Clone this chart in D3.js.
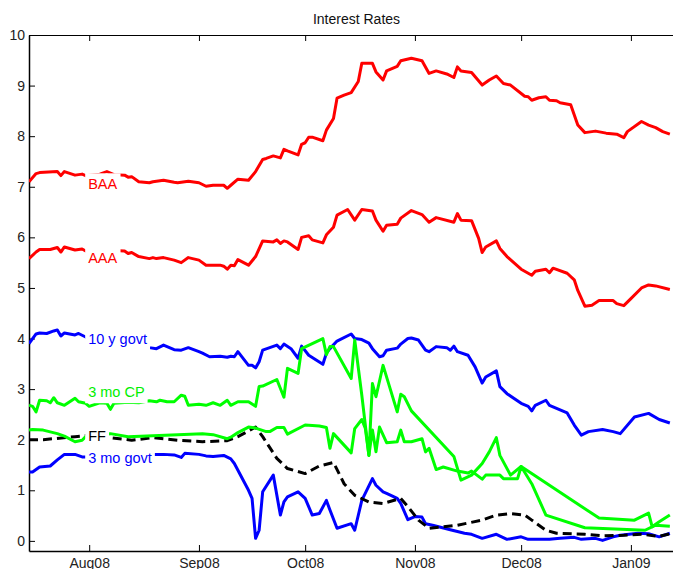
<!DOCTYPE html>
<html>
<head>
<meta charset="utf-8">
<script src="https://cdn.jsdelivr.net/npm/d3@7"></script>
<style>
  body { margin: 0; background: #fff; }
  text { font-family: "Liberation Sans", Arial, Helvetica, sans-serif; }
</style>
</head>
<body>
<div id="chart"></div>
<script>
// values, [date, percent]
var baa = [["2008-07-15",7.10],["2008-07-17",7.26],["2008-07-18",7.28],["2008-07-23",7.30],["2008-07-24",7.22],["2008-07-25",7.30],["2008-07-28",7.23],["2008-07-30",7.25],["2008-07-31",7.22],["2008-08-04",7.25],["2008-08-06",7.30],["2008-08-08",7.24],["2008-08-11",7.23],["2008-08-12",7.19],["2008-08-13",7.20],["2008-08-15",7.10],["2008-08-18",7.08],["2008-08-19",7.10],["2008-08-22",7.13],["2008-08-25",7.09],["2008-08-26",7.08],["2008-08-29",7.11],["2008-09-01",7.08],["2008-09-03",7.01],["2008-09-05",7.03],["2008-09-08",7.03],["2008-09-09",6.97],["2008-09-10",7.03],["2008-09-12",7.15],["2008-09-15",7.13],["2008-09-17",7.30],["2008-09-19",7.54],["2008-09-20",7.56],["2008-09-22",7.61],["2008-09-23",7.59],["2008-09-24",7.57],["2008-09-25",7.74],["2008-09-26",7.71],["2008-09-29",7.63],["2008-09-30",7.84],["2008-10-01",7.87],["2008-10-02",7.98],["2008-10-03",7.98],["2008-10-06",7.91],["2008-10-07",8.12],["2008-10-09",8.35],["2008-10-10",8.75],["2008-10-12",8.81],["2008-10-14",8.86],["2008-10-16",9.08],["2008-10-17",9.44],["2008-10-20",9.44],["2008-10-21",9.27],["2008-10-23",9.11],["2008-10-24",9.29],["2008-10-27",9.38],["2008-10-28",9.49],["2008-10-31",9.54],["2008-11-03",9.49],["2008-11-05",9.24],["2008-11-07",9.29],["2008-11-10",9.23],["2008-11-12",9.16],["2008-11-13",9.37],["2008-11-14",9.29],["2008-11-17",9.26],["2008-11-20",9.01],["2008-11-22",9.11],["2008-11-24",9.19],["2008-11-26",9.04],["2008-11-28",9.01],["2008-12-02",8.79],["2008-12-03",8.78],["2008-12-04",8.71],["2008-12-06",8.76],["2008-12-08",8.78],["2008-12-09",8.71],["2008-12-11",8.70],["2008-12-12",8.66],["2008-12-15",8.62],["2008-12-17",8.22],["2008-12-19",8.07],["2008-12-22",8.10],["2008-12-25",8.06],["2008-12-28",8.04],["2008-12-30",7.97],["2008-12-31",8.09],["2009-01-04",8.29],["2009-01-06",8.22],["2009-01-08",8.17],["2009-01-10",8.09],["2009-01-12",8.04]];

var aaa = [["2008-07-15",5.58],["2008-07-17",5.71],["2008-07-18",5.76],["2008-07-21",5.76],["2008-07-23",5.80],["2008-07-24",5.71],["2008-07-25",5.81],["2008-07-28",5.75],["2008-07-30",5.77],["2008-07-31",5.73],["2008-08-05",5.78],["2008-08-08",5.74],["2008-08-11",5.73],["2008-08-12",5.68],["2008-08-13",5.70],["2008-08-15",5.62],["2008-08-18",5.58],["2008-08-19",5.60],["2008-08-20",5.58],["2008-08-22",5.60],["2008-08-25",5.55],["2008-08-27",5.50],["2008-08-29",5.60],["2008-09-01",5.55],["2008-09-03",5.45],["2008-09-07",5.45],["2008-09-08",5.43],["2008-09-09",5.37],["2008-09-10",5.45],["2008-09-11",5.44],["2008-09-12",5.56],["2008-09-15",5.45],["2008-09-17",5.62],["2008-09-19",5.93],["2008-09-22",5.91],["2008-09-23",5.95],["2008-09-24",5.88],["2008-09-25",5.93],["2008-09-26",5.91],["2008-09-29",5.76],["2008-09-30",6.00],["2008-10-02",6.03],["2008-10-03",5.95],["2008-10-06",5.89],["2008-10-07",6.05],["2008-10-09",6.20],["2008-10-10",6.44],["2008-10-13",6.55],["2008-10-15",6.34],["2008-10-17",6.55],["2008-10-20",6.52],["2008-10-21",6.34],["2008-10-23",6.12],["2008-10-24",6.24],["2008-10-27",6.26],["2008-10-28",6.38],["2008-10-31",6.53],["2008-11-03",6.45],["2008-11-05",6.30],["2008-11-07",6.39],["2008-11-12",6.30],["2008-11-13",6.47],["2008-11-14",6.34],["2008-11-17",6.33],["2008-11-19",5.98],["2008-11-20",5.70],["2008-11-21",5.81],["2008-11-24",5.93],["2008-11-25",5.78],["2008-11-27",5.62],["2008-12-01",5.37],["2008-12-04",5.25],["2008-12-05",5.33],["2008-12-08",5.37],["2008-12-09",5.30],["2008-12-10",5.39],["2008-12-14",5.29],["2008-12-16",5.16],["2008-12-17",4.95],["2008-12-19",4.64],["2008-12-21",4.66],["2008-12-23",4.75],["2008-12-27",4.75],["2008-12-28",4.69],["2008-12-30",4.65],["2009-01-01",4.79],["2009-01-04",5.00],["2009-01-06",5.06],["2009-01-08",5.04],["2009-01-12",4.97]];

var govt10y = [["2008-07-15",3.90],["2008-07-17",4.09],["2008-07-18",4.11],["2008-07-20",4.10],["2008-07-22",4.15],["2008-07-23",4.17],["2008-07-24",4.05],["2008-07-25",4.11],["2008-07-28",4.07],["2008-07-29",4.10],["2008-07-31",4.03],["2008-08-01",3.98],["2008-08-05",4.00],["2008-08-08",3.98],["2008-08-12",3.95],["2008-08-15",3.90],["2008-08-18",3.82],["2008-08-20",3.80],["2008-08-22",3.87],["2008-08-25",3.78],["2008-08-27",3.77],["2008-08-29",3.82],["2008-09-01",3.74],["2008-09-02",3.71],["2008-09-04",3.64],["2008-09-07",3.65],["2008-09-09",3.63],["2008-09-10",3.65],["2008-09-11",3.64],["2008-09-12",3.74],["2008-09-15",3.47],["2008-09-16",3.47],["2008-09-17",3.42],["2008-09-18",3.54],["2008-09-19",3.77],["2008-09-21",3.82],["2008-09-23",3.87],["2008-09-24",3.80],["2008-09-25",3.89],["2008-09-27",3.80],["2008-09-29",3.61],["2008-09-30",3.85],["2008-10-02",3.67],["2008-10-06",3.49],["2008-10-07",3.71],["2008-10-08",3.80],["2008-10-10",3.95],["2008-10-14",4.09],["2008-10-15",4.00],["2008-10-17",3.98],["2008-10-19",3.91],["2008-10-20",3.80],["2008-10-22",3.64],["2008-10-23",3.66],["2008-10-24",3.77],["2008-10-27",3.81],["2008-10-28",3.89],["2008-10-30",4.00],["2008-10-31",4.01],["2008-11-02",3.97],["2008-11-04",3.77],["2008-11-05",3.74],["2008-11-07",3.84],["2008-11-10",3.82],["2008-11-11",3.77],["2008-11-12",3.85],["2008-11-13",3.74],["2008-11-16",3.67],["2008-11-18",3.44],["2008-11-20",3.12],["2008-11-21",3.24],["2008-11-24",3.36],["2008-11-25",3.05],["2008-11-27",2.91],["2008-12-01",2.72],["2008-12-03",2.66],["2008-12-04",2.57],["2008-12-05",2.68],["2008-12-08",2.78],["2008-12-09",2.68],["2008-12-10",2.65],["2008-12-14",2.53],["2008-12-16",2.29],["2008-12-18",2.09],["2008-12-20",2.16],["2008-12-24",2.20],["2008-12-27",2.16],["2008-12-29",2.12],["2009-01-02",2.45],["2009-01-06",2.52],["2009-01-09",2.40],["2009-01-12",2.33]];

var cp3m = [["2008-07-15",2.68],["2008-07-16",2.66],["2008-07-17",2.55],["2008-07-18",2.78],["2008-07-20",2.77],["2008-07-21",2.73],["2008-07-22",2.83],["2008-07-23",2.73],["2008-07-25",2.68],["2008-07-28",2.82],["2008-07-29",2.75],["2008-07-31",2.72],["2008-08-01",2.66],["2008-08-04",2.73],["2008-08-06",2.72],["2008-08-07",2.60],["2008-08-08",2.72],["2008-08-12",2.74],["2008-08-15",2.73],["2008-08-18",2.77],["2008-08-20",2.75],["2008-08-21",2.78],["2008-08-23",2.75],["2008-08-25",2.75],["2008-08-27",2.88],["2008-08-28",2.86],["2008-08-29",2.68],["2008-09-01",2.70],["2008-09-03",2.68],["2008-09-05",2.73],["2008-09-07",2.68],["2008-09-09",2.78],["2008-09-10",2.68],["2008-09-12",2.75],["2008-09-15",2.75],["2008-09-17",2.66],["2008-09-18",3.05],["2008-09-19",3.06],["2008-09-23",3.19],["2008-09-25",2.84],["2008-09-26",3.41],["2008-09-29",3.31],["2008-09-30",3.80],["2008-10-06",4.00],["2008-10-07",3.68],["2008-10-08",3.84],["2008-10-09",3.84],["2008-10-14",3.21],["2008-10-15",3.97],["2008-10-17",2.88],["2008-10-19",1.69],["2008-10-20",3.11],["2008-10-21",2.85],["2008-10-23",3.47],["2008-10-27",2.55],["2008-10-28",2.90],["2008-10-29",2.85],["2008-10-31",2.57],["2008-11-12",1.67],["2008-11-14",1.20],["2008-11-17",1.30],["2008-11-20",1.53],["2008-11-22",1.76],["2008-11-24",2.04],["2008-11-25",1.69],["2008-11-28",1.30],["2008-12-01",1.47],["2008-12-23",0.45],["2009-01-02",0.41],["2009-01-06",0.55],["2009-01-07",0.28],["2009-01-09",0.38],["2009-01-12",0.51]];

var cp3m2 = [["2008-07-15",2.19],["2008-07-16",2.20],["2008-07-19",2.19],["2008-07-23",2.12],["2008-07-25",2.07],["2008-07-28",1.96],["2008-07-30",1.99],["2008-07-31",2.06],["2008-08-04",2.10],["2008-08-07",2.12],["2008-08-12",2.06],["2008-09-02",2.12],["2008-09-05",2.10],["2008-09-09",2.02],["2008-09-10",2.05],["2008-09-12",2.14],["2008-09-15",2.25],["2008-09-17",2.23],["2008-09-20",2.16],["2008-09-21",2.16],["2008-09-23",2.24],["2008-09-25",2.24],["2008-09-26",2.11],["2008-10-01",2.29],["2008-10-05",2.27],["2008-10-07",2.24],["2008-10-08",1.83],["2008-10-09",2.12],["2008-10-14",1.74],["2008-10-15",2.22],["2008-10-17",2.40],["2008-10-18",2.22],["2008-10-19",1.69],["2008-10-20",2.19],["2008-10-21",1.76],["2008-10-22",2.25],["2008-10-24",1.94],["2008-10-27",1.96],["2008-10-28",2.19],["2008-10-29",1.96],["2008-10-31",1.96],["2008-11-03",2.02],["2008-11-04",1.76],["2008-11-05",1.83],["2008-11-07",1.41],["2008-11-09",1.46],["2008-11-13",1.38],["2008-11-16",1.34],["2008-11-17",1.38],["2008-11-20",1.22],["2008-11-21",1.30],["2008-11-25",1.30],["2008-11-26",1.23],["2008-11-30",1.23],["2008-12-01",1.47],["2008-12-04",1.13],["2008-12-08",0.51],["2008-12-19",0.26],["2009-01-05",0.21],["2009-01-08",0.31],["2009-01-12",0.29]];

var fedFunds = [["2008-07-15",2.00],["2008-07-19",2.00],["2008-07-28",2.06],["2008-07-31",2.08],["2008-08-07",2.04],["2008-08-13",1.99],["2008-08-19",2.04],["2008-08-26",1.99],["2008-09-02",1.96],["2008-09-09",1.98],["2008-09-12",2.06],["2008-09-17",2.25],["2008-09-19",2.06],["2008-09-23",1.63],["2008-09-26",1.43],["2008-10-01",1.33],["2008-10-05",1.48],["2008-10-09",1.55],["2008-10-12",1.13],["2008-10-15",0.90],["2008-10-19",0.77],["2008-10-23",0.74],["2008-10-28",0.84],["2008-10-30",0.68],["2008-11-02",0.41],["2008-11-05",0.25],["2008-11-09",0.28],["2008-11-13",0.31],["2008-11-20",0.41],["2008-11-24",0.51],["2008-11-28",0.54],["2008-12-02",0.51],["2008-12-04",0.41],["2008-12-08",0.21],["2008-12-11",0.15],["2008-12-19",0.13],["2008-12-24",0.10],["2008-12-30",0.11],["2009-01-04",0.13],["2009-01-09",0.09],["2009-01-12",0.14]];

var govt3m = [["2008-07-15",1.36],["2008-07-16",1.36],["2008-07-18",1.46],["2008-07-21",1.48],["2008-07-23",1.60],["2008-07-25",1.71],["2008-07-28",1.71],["2008-07-30",1.66],["2008-07-31",1.66],["2008-08-06",1.68],["2008-08-12",1.70],["2008-08-19",1.71],["2008-08-22",1.71],["2008-08-25",1.70],["2008-08-27",1.65],["2008-08-28",1.73],["2008-09-01",1.71],["2008-09-03",1.68],["2008-09-05",1.67],["2008-09-08",1.69],["2008-09-10",1.62],["2008-09-11",1.53],["2008-09-15",1.00],["2008-09-16",0.84],["2008-09-17",0.05],["2008-09-18",0.21],["2008-09-19",0.97],["2008-09-22",1.30],["2008-09-24",0.51],["2008-09-25",0.77],["2008-09-26",0.87],["2008-09-29",0.97],["2008-10-01",0.84],["2008-10-03",0.51],["2008-10-05",0.54],["2008-10-07",0.80],["2008-10-08",0.61],["2008-10-10",0.25],["2008-10-14",0.34],["2008-10-15",0.21],["2008-10-17",0.80],["2008-10-20",1.23],["2008-10-21",1.10],["2008-10-23",0.97],["2008-10-24",0.94],["2008-10-27",0.84],["2008-10-28",0.74],["2008-10-30",0.42],["2008-11-01",0.48],["2008-11-03",0.47],["2008-11-04",0.34],["2008-11-06",0.31],["2008-11-11",0.22],["2008-11-15",0.15],["2008-11-17",0.13],["2008-11-20",0.05],["2008-11-24",0.13],["2008-11-27",0.03],["2008-12-01",0.08],["2008-12-03",0.03],["2008-12-09",0.03],["2008-12-12",0.05],["2008-12-16",0.07],["2008-12-18",0.03],["2008-12-22",0.05],["2008-12-24",0.01],["2008-12-27",0.08],["2008-12-29",0.11],["2009-01-03",0.15],["2009-01-06",0.14],["2009-01-09",0.08],["2009-01-12",0.15]];

var xTicks = ["2008-08-01","2008-09-01","2008-10-01","2008-11-01","2008-12-01","2009-01-01"];
var yTicks = [0, 1, 2, 3, 4, 5, 6, 7, 8, 9, 10];

// in-plot labels: name, baseline value (all start at Aug 1)
var labelNames = ["BAA", "AAA", "10 y govt", "3 mo CP", "FF", "3 mo govt"];
var labelValues = [6.95, 5.50, 3.89, 2.84, 1.97, 1.54];
var labelColors = ["#ff0000", "#ff0000", "#0000ff", "#00ee00", "#000000", "#0000ff"];

var parse = d3.timeParse("%Y-%m-%d");

var series = [
  { data: govt10y, color: "#0000ff" },
  { data: govt3m, color: "#0000ff" },
  { data: fedFunds, color: "#000000", dash: "9,5" },
  { data: cp3m2, color: "#00ff00" },
  { data: cp3m, color: "#00ff00" },
  { data: aaa, color: "#ff0000" },
  { data: baa, color: "#ff0000" },
];

var W = 673,
  H = 569,
  plotL = 29,
  plotR = 684,
  plotT = 35,
  plotB = 551;

var svg = d3
  .select("#chart")
  .append("svg")
  .attr("width", W)
  .attr("height", H);

var x = d3
  .scaleTime()
  .domain([parse("2008-07-15"), parse("2009-01-16")])
  .range([plotL, plotR]);
var y = d3.scaleLinear().domain([-0.2, 10]).range([plotB, plotT]);

svg
  .append("clipPath")
  .attr("id", "plotclip")
  .append("rect")
  .attr("x", plotL)
  .attr("y", plotT)
  .attr("width", plotR - plotL)
  .attr("height", plotB - plotT);

// axes, box style with inward ticks
var fmt = d3.timeFormat("%b%y");
var xAxis = svg
  .append("g")
  .attr("transform", "translate(0," + plotB + ")")
  .call(
    d3.axisBottom(x)
      .tickValues(xTicks.map(parse))
      .tickFormat(fmt)
      .tickSizeInner(-6)
      .tickSizeOuter(0)
      .tickPadding(7)
  );

var topAxis = svg
  .append("g")
  .attr("transform", "translate(0," + plotT + ")")
  .call(d3.axisTop(x).tickValues(xTicks.map(parse)).tickFormat("").tickSizeInner(-6).tickSizeOuter(0));

var yAxis = svg
  .append("g")
  .attr("transform", "translate(" + plotL + ",0)")
  .call(d3.axisLeft(y).tickValues(yTicks).tickSizeInner(-6).tickSizeOuter(0).tickPadding(4));

var rightAxis = svg
  .append("g")
  .attr("transform", "translate(" + plotR + ",0)")
  .call(d3.axisRight(y).tickValues(yTicks).tickFormat("").tickSizeInner(-6).tickSizeOuter(0));

[xAxis, topAxis, yAxis, rightAxis].forEach(function (g) {
  g.attr("font-size", 14).attr("font-family", null);
  g.select(".domain").attr("stroke", "#000").attr("stroke-width", 1.5);
  g.selectAll(".tick line").attr("stroke", "#000").attr("stroke-width", 1);
  g.selectAll(".tick text").attr("fill", "#222");
});
topAxis.select(".domain").attr("stroke-width", 1);

// the lines
var line = d3
  .line()
  .x(function (d) { return x(parse(d[0])); })
  .y(function (d) { return y(d[1]); });

svg
  .append("g")
  .attr("clip-path", "url(#plotclip)")
  .selectAll("path")
  .data(series)
  .enter()
  .append("path")
  .attr("d", function (s) { return line(s.data); })
  .attr("fill", "none")
  .attr("stroke", function (s) { return s.color; })
  .attr("stroke-width", 3)
  .attr("stroke-linejoin", "round")
  .attr("stroke-dasharray", function (s) { return s.dash || null; });

// labels on white boxes
var labelG = svg.append("g");
labelNames.forEach(function (name, i) {
  var g = labelG.append("g");
  var t = g
    .append("text")
    .attr("x", x(parse("2008-08-01")) - 1)
    .attr("y", y(labelValues[i]))
    .attr("font-size", 14.5)
    .attr("fill", labelColors[i])
    .text(name);
  var b = t.node().getBBox();
  g.insert("rect", "text")
    .attr("x", b.x - 3)
    .attr("y", b.y - 3)
    .attr("width", b.width + 6)
    .attr("height", b.height + 6)
    .attr("fill", "#fff");
});

// title
svg
  .append("text")
  .attr("x", (plotL + plotR) / 2)
  .attr("y", 24)
  .attr("text-anchor", "middle")
  .attr("font-size", 14)
  .attr("fill", "#111")
  .text("Interest Rates");
</script>
</body>
</html>
